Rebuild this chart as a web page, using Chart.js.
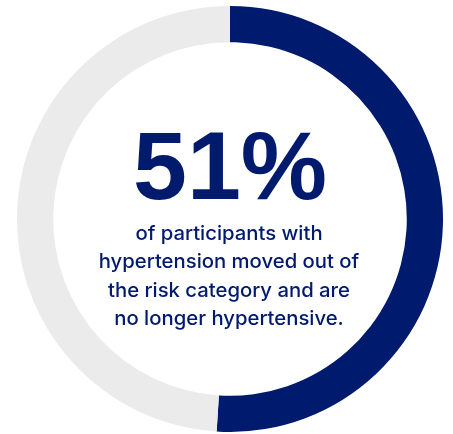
<!DOCTYPE html>
<html>
<head>
<meta charset="utf-8">
<script src="https://cdn.jsdelivr.net/npm/chart.js@4.4.1/dist/chart.umd.min.js"></script>
<style>
  html, body { margin: 0; padding: 0; background: #ffffff; }
  body { width: 453px; height: 434px; position: relative; overflow: hidden; }
  #wrap { position: absolute; left: 17px; top: 6px; width: 426px; height: 426px; }
</style>
</head>
<body>
<div id="wrap"><canvas id="ring"></canvas></div>
<script>
// Share of participants who moved out of the hypertension risk category
const categories = ['Moved out of risk category', 'Still hypertensive'];
const shares = [51, 49];
const sliceColors = ['#001A6E', '#EBEBEB'];
const headline = shares[0] + '%';
const captionLines = [
  'of participants with',
  'hypertension moved out of',
  'the risk category and are',
  'no longer hypertensive.'
];

const centerText = {
  id: 'centerText',
  afterDraw(chart) {
    const { ctx, chartArea } = chart;
    const cx = (chartArea.left + chartArea.right) / 2;
    const cy = (chartArea.top + chartArea.bottom) / 2;
    ctx.save();
    ctx.fillStyle = '#001A6E';
    ctx.textAlign = 'center';
    ctx.textBaseline = 'alphabetic';
    ctx.font = 'bold 97px "Liberation Sans", Arial, sans-serif';
    ctx.fillText(headline, cx, cy - 20);
    ctx.font = '500 20.3px Inter, Roboto, sans-serif';
    captionLines.forEach((line, i) => {
      ctx.fillText(line, cx - 1, cy + 20.5 + i * 28.5);
    });
    ctx.restore();
  }
};

new Chart(document.getElementById('ring'), {
  type: 'doughnut',
  data: {
    labels: categories,
    datasets: [{
      data: shares,
      backgroundColor: sliceColors,
      borderWidth: 0,
      hoverOffset: 0
    }]
  },
  options: {
    responsive: true,
    maintainAspectRatio: false,
    animation: false,
    cutout: '83%',
    layout: { padding: 0 },
    plugins: {
      legend: { display: false },
      tooltip: { enabled: false }
    }
  },
  plugins: [centerText]
});
</script>
</body>
</html>
